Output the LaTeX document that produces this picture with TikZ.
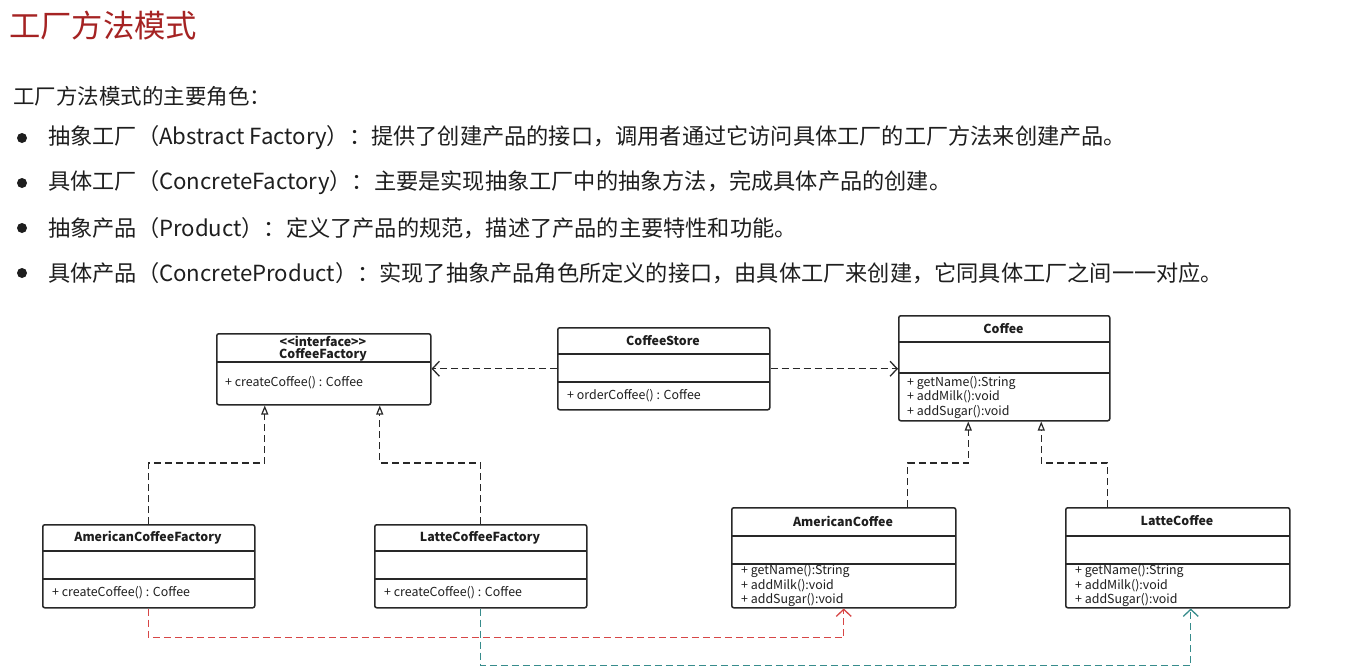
\documentclass[tikz,border=0pt]{standalone}
\usepackage{fontspec}
\setmainfont{Noto Sans CJK SC}
\usetikzlibrary{arrows.meta}
\definecolor{ink}{RGB}{40,40,40}
\definecolor{txt}{RGB}{30,30,30}
\definecolor{titlered}{RGB}{165,35,35}
\definecolor{redline}{RGB}{215,70,70}
\definecolor{tealline}{RGB}{55,140,140}
\newcommand\umlbox[5]{\node[box, minimum width={(#4-#2)*1pt}, minimum height={(#5-#3)*1pt}] (#1) at (#2,#3) {};}
\newcommand\sepl[3]{\draw[boxline] (#1,#3) -- (#2,#3);}
\begin{document}
\begin{tikzpicture}[x=1pt,y=-1pt,
  box/.style={draw=ink, line width=1.5pt, rounded corners=2pt, inner sep=0pt, anchor=north west},
  boxline/.style={draw=ink, line width=1.3pt},
  cname/.style={font=\fontsize{12.4}{13}\selectfont\bfseries, text=txt, inner sep=0pt},
  meth/.style={font=\fontsize{12.4}{14.5}\selectfont, text=txt, inner sep=0pt, anchor=west, align=left},
  dep/.style={draw=ink, line width=1.3pt, dash pattern=on 7pt off 4pt, -{Straight Barb[length=7pt,width=15pt,line width=1.3pt]}},
  real/.style={draw=ink, line width=1.3pt, dash pattern=on 7pt off 4pt, -{Triangle[open,length=9pt,width=7pt,line width=1.2pt]}},
  redc/.style={draw=redline, line width=1.3pt, dash pattern=on 7pt off 4pt, -{Straight Barb[length=7pt,width=15pt,line width=1.3pt]}},
  tealc/.style={draw=tealline, line width=1.3pt, dash pattern=on 7pt off 4pt, -{Straight Barb[length=7pt,width=15pt,line width=1.3pt]}},
  body/.style={font=\fontsize{22.2}{26}\selectfont, text=txt, inner sep=0pt, anchor=west},
  bullet/.style={circle, fill=txt, inner sep=0pt, minimum size=10pt}
]
\useasboundingbox[fill=white] (0,0) rectangle (1361,672);

% heading and text
\node[font=\fontsize{31.3}{36}\selectfont, text=titlered, inner sep=0pt, anchor=west] (title) at (9,26) {工厂方法模式};
\node[font=\fontsize{21.5}{26}\selectfont, text=txt, inner sep=0pt, anchor=west] (intro) at (13,96) {工厂方法模式的主要角色：};
\node[bullet] (b1) at (22,138) {};
\node[bullet] (b2) at (22,183) {};
\node[bullet] (b3) at (22,228) {};
\node[bullet] (b4) at (22,273) {};
\node[body] (t1) at (48,138) {抽象工厂（Abstract Factory）：提供了创建产品的接口，调用者通过它访问具体工厂的工厂方法来创建产品。};
\node[body] (t2) at (48,183) {具体工厂（ConcreteFactory）：主要是实现抽象工厂中的抽象方法，完成具体产品的创建。};
\node[body] (t3) at (48,228) {抽象产品（Product）：定义了产品的规范，描述了产品的主要特性和功能。};
\node[body] (t4) at (48,273) {具体产品（ConcreteProduct）：实现了抽象产品角色所定义的接口，由具体工厂来创建，它同具体工厂之间一一对应。};

% CoffeeFactory
\umlbox{cf}{216}{333}{430}{404}
\sepl{216}{430}{362}
\node[cname] (cfs) at (323,341) {<\kern0pt<interface>\kern0pt>};
\node[cname] (cfn) at (323,355) {CoffeeFactory};
\node[meth] (cfm) at (225,383) {+ createCoffee() : Coffee};

% CoffeeStore
\umlbox{cs}{557}{327}{769}{409}
\sepl{557}{769}{354}
\sepl{557}{769}{382}
\node[cname] (csn) at (663,341) {CoffeeStore};
\node[meth] (csm) at (567,396) {+ orderCoffee() : Coffee};

% Coffee
\umlbox{co}{898}{315}{1109}{420}
\sepl{898}{1109}{342}
\sepl{898}{1109}{373}
\node[cname] (con) at (1003.5,329) {Coffee};
\node[meth] (com) at (907,397) {+ getName():String\\+ addMilk():void\\+ addSugar():void};

% AmericanCoffeeFactory
\umlbox{acf}{42}{524}{254}{607}
\sepl{42}{254}{551}
\sepl{42}{254}{579}
\node[cname] (acfn) at (148,538) {AmericanCoffeeFactory};
\node[meth] (acfm) at (52,593) {+ createCoffee() : Coffee};

% LatteCoffeeFactory
\umlbox{lcf}{374}{524}{586}{607}
\sepl{374}{586}{551}
\sepl{374}{586}{579}
\node[cname] (lcfn) at (480,538) {LatteCoffeeFactory};
\node[meth] (lcfm) at (384,593) {+ createCoffee() : Coffee};

% AmericanCoffee
\umlbox{ac}{731}{507}{955}{607}
\sepl{731}{955}{536}
\sepl{731}{955}{564}
\node[cname] (acn) at (843,521) {AmericanCoffee};
\node[meth] (acm) at (741,585.5) {+ getName():String\\+ addMilk():void\\+ addSugar():void};

% LatteCoffee
\umlbox{lc}{1065}{507}{1289}{607}
\sepl{1065}{1289}{536}
\sepl{1065}{1289}{564}
\node[cname] (lcn) at (1177,521) {LatteCoffee};
\node[meth] (lcm) at (1075,585.5) {+ getName():String\\+ addMilk():void\\+ addSugar():void};

% attachment points
\coordinate (cfL) at ([xshift=-59pt]cf.south);
\coordinate (cfR) at ([xshift=56pt]cf.south);
\coordinate (coL) at ([xshift=-36pt]co.south);
\coordinate (coR) at ([xshift=37pt]co.south);
\coordinate (acT) at ([xshift=64pt]ac.north);
\coordinate (lcT) at ([xshift=-70pt]lc.north);
\coordinate (lcB) at ([xshift=13pt]lc.south);

% connectors
\draw[dep] (cs.west) -- (cf.east |- cs.west);
\draw[dep] (cs.east) -- (co.west |- cs.east);
\draw[real] (acf.north) -- ++(0,-61) -| (cfL);
\draw[real] (lcf.north) -- ++(0,-61) -| (cfR);
\draw[real] (acT) -- ++(0,-44) -| (coL);
\draw[real] (lcT) -- ++(0,-44) -| (coR);
\draw[redc] (acf.south) -- ++(0,29) -| (ac.south);
\draw[tealc] (lcf.south) -- ++(0,57) -| (lcB);
\end{tikzpicture}
\end{document}
